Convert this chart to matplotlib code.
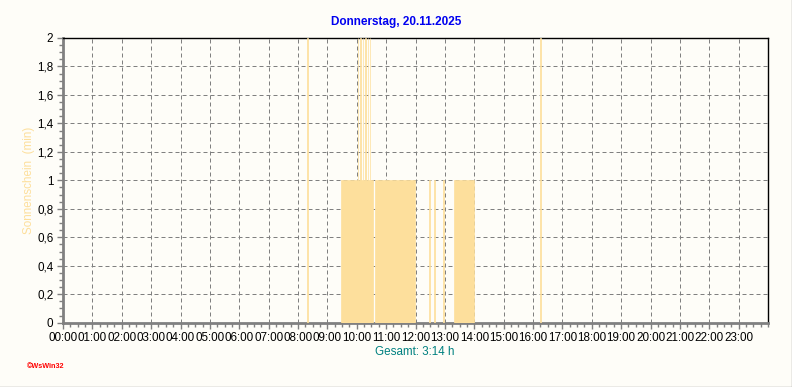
import numpy as np
import matplotlib as mpl
import matplotlib.pyplot as plt
from matplotlib.ticker import MultipleLocator, FixedLocator, FuncFormatter
from matplotlib.lines import Line2D

mpl.rcParams["font.family"] = ["Liberation Sans", "DejaVu Sans"]

# sunshine intervals: start minute of day, length in minutes, value (min)
seg_start_min = [499, 568, 602, 607, 612, 617, 622, 627, 638, 748, 758, 776, 799, 975]
seg_len_min = [1, 65, 1, 1, 1, 1, 1, 1, 81, 1, 2, 2, 41, 1]
seg_value = [2, 1, 2, 2, 2, 2, 2, 2, 1, 1, 1, 1, 1, 2]

hour_labels = [f"{h:02d}:00" for h in range(24)]
y_ticks = [0, 0.2, 0.4, 0.6, 0.8, 1, 1.2, 1.4, 1.6, 1.8, 2]

title = "Donnerstag, 20.11.2025"
total_text = "Gesamt: 3:14 h"

bg = "#FEFDF8"
bar_color = "#FDDF9C"

fig = plt.figure(figsize=(7.92, 3.87), dpi=100, facecolor=bg)
ax = fig.add_axes([63 / 792, 1 - 322.7 / 387, 705 / 792, 284.7 / 387], facecolor=bg)

x = np.array(seg_start_min) / 60
w = np.array(seg_len_min) / 60
ax.bar(x, seg_value, width=w, align="edge", color=bar_color,
       edgecolor=bar_color, linewidth=0.5, zorder=3)

ax.set_xlim(0, 24)
ax.set_ylim(0, 2)

ax.xaxis.set_major_locator(FixedLocator(range(24)))
ax.set_xticklabels(hour_labels)
ax.xaxis.set_minor_locator(MultipleLocator(0.25))
ax.yaxis.set_major_locator(FixedLocator(y_ticks))
ax.yaxis.set_major_formatter(FuncFormatter(lambda v, p: f"{v:g}".replace(".", ",")))
ax.yaxis.set_minor_locator(MultipleLocator(0.05))

ax.tick_params(axis="both", which="major", labelsize=8.4, length=4, width=1,
               color="#808080", pad=3)
ax.tick_params(axis="both", which="minor", length=3, width=1, color="#808080")

ax.grid(True, which="major", color="#808080", linestyle=(0, (4, 3)),
        linewidth=0.72, zorder=1)
ax.set_axisbelow(True)

for s in ["left", "bottom"]:
    ax.spines[s].set_color("#808080")
    ax.spines[s].set_linewidth(2)
for s in ["top", "right"]:
    ax.spines[s].set_color("black")
    ax.spines[s].set_linewidth(1)

ax.set_ylabel("Sonnenschein  (min)", color=bar_color, fontsize=8.4)
ax.yaxis.set_label_coords(-28 / 705, 0.5)

fig.text(396 / 792, 1 - 22 / 387, title, ha="center", va="center",
         color="#0000F0", fontsize=8.5, fontweight="bold")
fig.text(415 / 792, 1 - 352 / 387, total_text, ha="center", va="center",
         color="#008080", fontsize=8.4)
fig.text(27 / 792, 1 - 367 / 387, "\u00a9WsWin32", ha="left", va="center",
         color="red", fontsize=5.2, fontweight="bold")

# window frame on right and bottom
fig.add_artist(Line2D([0, 1], [0.5 / 387, 0.5 / 387], color="#A0A0A0", lw=1))
fig.add_artist(Line2D([1 - 0.5 / 792, 1 - 0.5 / 792], [0, 1], color="#A0A0A0", lw=1))

fig.savefig("out.png", dpi=100, facecolor=bg)
plt.close(fig)
